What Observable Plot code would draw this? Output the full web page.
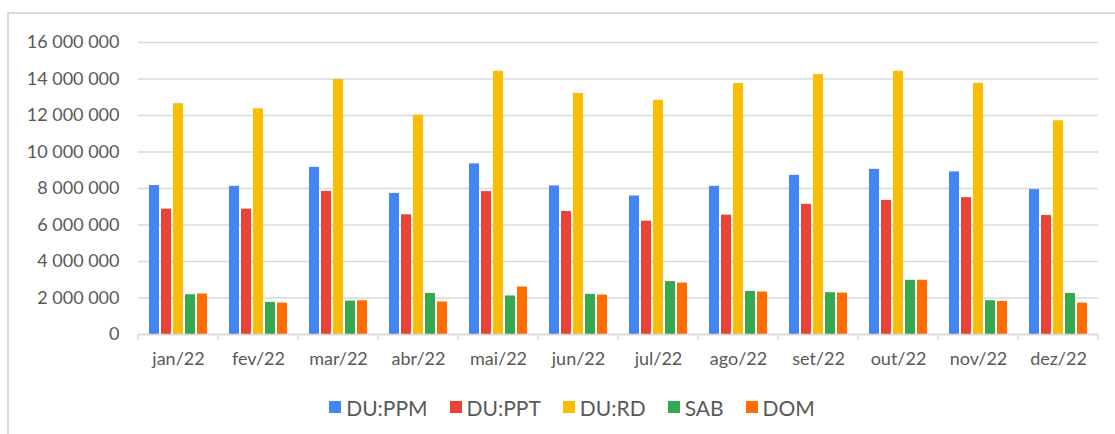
<!DOCTYPE html>
<html>
<head>
<meta charset="utf-8">
<script src="https://cdn.jsdelivr.net/npm/d3@7"></script>
<script src="https://cdn.jsdelivr.net/npm/@observablehq/plot@0.6"></script>
<style>
  html, body { margin: 0; padding: 0; background: #fff; }
  body { width: 1115px; height: 434px; position: relative; overflow: hidden; font-family: Lato, sans-serif; }
  #box { position: absolute; left: 7px; top: 12px; width: 1200px; height: 500px; border-left: 2px solid #d9d9d9; border-top: 2px solid #d9d9d9; box-sizing: border-box; }
  #chart { position: absolute; left: 0; top: 0; }
  #legend { position: absolute; top: 395px; left: 0; width: 1115px; height: 24px; padding-left: 51px; box-sizing: border-box; display: flex; justify-content: center; align-items: center; }
  .lg-swatches { font-family: Lato, sans-serif !important; font-size: 21px !important; color: #595959 !important; margin: 0 !important; min-height: 24px !important; }
  .lg-swatch { margin-right: 22px !important; }
  .lg-swatch > svg { margin-right: 5px !important; }
</style>
</head>
<body>
<div id="box"></div>
<div id="chart"></div>
<div id="legend"></div>
<script>
const months = ["jan/22","fev/22","mar/22","abr/22","mai/22","jun/22","jul/22","ago/22","set/22","out/22","nov/22","dez/22"];
const series = ["DU:PPM","DU:PPT","DU:RD","SAB","DOM"];
const colors = ["#4285F4","#EA4335","#FBBC04","#34A853","#FF6D01"];
const duPPM = [8160000, 8120000, 9160000, 7730000, 9350000, 8140000, 7590000, 8120000, 8720000, 9050000, 8910000, 7940000];
const duPPT = [6870000, 6870000, 7840000, 6560000, 7830000, 6740000, 6210000, 6540000, 7130000, 7350000, 7500000, 6520000];
const duRD  = [12650000, 12370000, 13970000, 12020000, 14420000, 13210000, 12830000, 13750000, 14240000, 14420000, 13760000, 11710000];
const sab   = [2180000, 1760000, 1830000, 2250000, 2110000, 2200000, 2900000, 2360000, 2290000, 2970000, 1850000, 2250000];
const dom   = [2220000, 1720000, 1850000, 1780000, 2600000, 2160000, 2820000, 2330000, 2270000, 2970000, 1810000, 1720000];
const yTicks = [0, 2000000, 4000000, 6000000, 8000000, 10000000, 12000000, 14000000, 16000000];

const valuesBySeries = [duPPM, duPPT, duRD, sab, dom];
const data = [];
months.forEach((m, i) => series.forEach((s, j) => data.push({month: m, series: s, value: valuesBySeries[j][i]})));

const locale = d3.formatLocale({decimal: ",", thousands: " ", grouping: [3], currency: ["", ""]});
const fmt = locale.format(",d");

const W = 1115, H = 385, ML = 137, MR = 16, MT = 42, MB = 51;

const plot = Plot.plot({
  width: W, height: H,
  marginLeft: ML, marginRight: MR, marginTop: MT, marginBottom: MB,
  style: {fontFamily: "Lato, sans-serif", fontSize: "18px", color: "#595959", background: "transparent", overflow: "visible"},
  fx: {domain: months, padding: 0, label: null},
  x: {domain: series, paddingInner: 0.2, paddingOuter: 0.86, axis: null},
  y: {domain: [0, 16000000], label: null},
  color: {domain: series, range: colors},
  marks: [
    Plot.gridY(yTicks, {stroke: "#d9d9d9", strokeOpacity: 1, strokeWidth: 1.3}),
    Plot.axisY(yTicks, {tickSize: 0, tickPadding: 19, tickFormat: fmt, label: null, fill: "#595959", fontSize: 18}),
    Plot.axisFx({anchor: "bottom", tickSize: 0, tickPadding: 18, label: null, fill: "#595959", fontSize: 18}),
    Plot.barY(data, {fx: "month", x: "series", y: "value", fill: "series"}),
    Plot.ruleY([0], {stroke: "#d9d9d9", strokeWidth: 1.5})
  ]
});
document.getElementById("chart").appendChild(plot);

// category boundary ticks derived from the fx scale
const fx = plot.scale("fx");
const y = plot.scale("y");
const y0 = y.apply(0);
const bounds = months.map(m => fx.apply(m)).concat([fx.apply(months[months.length - 1]) + fx.bandwidth]);
d3.select(plot).append("g").selectAll("line").data(bounds).join("line")
  .attr("x1", d => d).attr("x2", d => d)
  .attr("y1", y0).attr("y2", y0 + 6)
  .attr("stroke", "#d9d9d9").attr("stroke-width", 1.5);

const legend = plot.legend("color", {swatchSize: 12, className: "lg"});
document.getElementById("legend").appendChild(legend);
</script>
</body>
</html>
